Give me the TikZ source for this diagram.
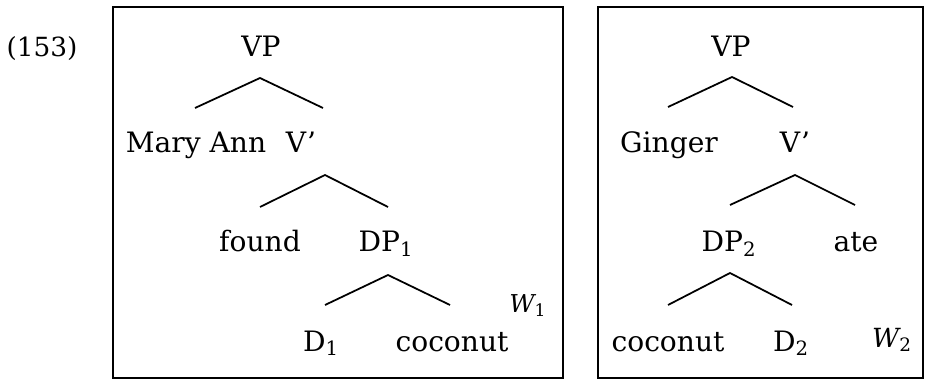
\documentclass[tikz,border=0pt]{standalone}
\usepackage{fontspec}
\setmainfont{DejaVu Serif}
\usepackage{tikz}

\tikzset{
  lbl/.style={font=\fontsize{16}{19}\selectfont, inner sep=0pt, anchor=base},
  world/.style={font=\fontsize{15}{18}\selectfont\itshape, inner sep=0pt, anchor=base},
  branch/.style={line width=1pt},
  frame/.style={line width=1.1pt}
}

\begin{document}
\begin{tikzpicture}[x=0.02cm, y=-0.02cm]
        \useasboundingbox (0,0) rectangle (925,381);
        \node[lbl, font=\fontsize{15}{18}\selectfont] (ex) at (42,57) {(153)};

        % left box: W1
        \draw[frame] (113,7) rectangle (563,378);
        \node[lbl] (vpA)   at (261,57)  {VP};
        \node[lbl] (maryA) at (196,153) {Mary Ann};
        \node[lbl] (vbarA) at (301,153) {V’};
        \node[lbl] (foundA) at (260,252) {found};
        \node[lbl] (dpA)   at (386,252) {DP\textsubscript{1}};
        \node[lbl] (dA)    at (321,351) {D\textsubscript{1}};
        \node[lbl] (cocoA) at (452,351) {coconut};
        \node[world, anchor=base west, font=\fontsize{14}{17}\selectfont\itshape] (wA) at (509,312) {W\textsubscript{\upshape 1}};

        \coordinate (tA1) at (260,78);  \coordinate (lA1) at (195,108); \coordinate (rA1) at (323,108);
        \coordinate (tA2) at (325,175); \coordinate (lA2) at (260,207); \coordinate (rA2) at (388,207);
        \coordinate (tA3) at (388,275); \coordinate (lA3) at (325,305); \coordinate (rA3) at (450,305);
        \draw[branch] (lA1) -- (tA1) -- (rA1);
        \draw[branch] (lA2) -- (tA2) -- (rA2);
        \draw[branch] (lA3) -- (tA3) -- (rA3);

        % right box: W2
        \draw[frame] (598,7) rectangle (923,378);
        \node[lbl] (vpB)     at (731,57)  {VP};
        \node[lbl] (gingerB) at (669,153) {Ginger};
        \node[lbl] (vbarB)   at (795,153) {V’};
        \node[lbl] (dpB)     at (729,252) {DP\textsubscript{2}};
        \node[lbl] (ateB)    at (856,252) {ate};
        \node[lbl] (cocoB)   at (668,351) {coconut};
        \node[lbl] (dB)      at (791,351) {D\textsubscript{2}};
        \node[world] (wB)    at (892,347) {W\textsubscript{\upshape 2}};

        \coordinate (tB1) at (732,77);  \coordinate (lB1) at (668,107); \coordinate (rB1) at (793,107);
        \coordinate (tB2) at (795,175); \coordinate (lB2) at (730,205); \coordinate (rB2) at (855,205);
        \coordinate (tB3) at (730,273); \coordinate (lB3) at (668,305); \coordinate (rB3) at (792,305);
        \draw[branch] (lB1) -- (tB1) -- (rB1);
        \draw[branch] (lB2) -- (tB2) -- (rB2);
        \draw[branch] (lB3) -- (tB3) -- (rB3);
\end{tikzpicture}
\end{document}
